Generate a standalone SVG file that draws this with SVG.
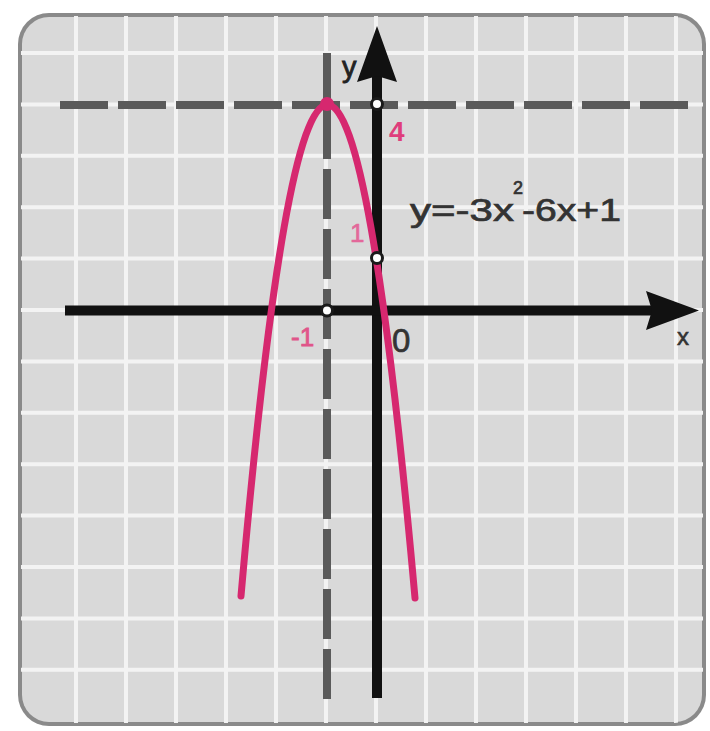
<svg xmlns="http://www.w3.org/2000/svg" width="710" height="731" viewBox="0 0 710 731">
  <defs>
    <clipPath id="inner">
      <rect x="21" y="16" width="682" height="707" rx="28"/>
    </clipPath>
    <style>
      .grid { stroke: #f3f3f3; stroke-width: 4; fill: none; }
      .dash { stroke: #5a5a5a; stroke-width: 8; fill: none; }
      .axis { stroke: #111; stroke-width: 10; fill: none; }
      .head { fill: #111; }
      .curve { stroke: #d6286f; stroke-width: 7; fill: none; stroke-linecap: round; }
      .pt { fill: #fff; stroke: #1a1a1a; stroke-width: 3; }
      .lbl { font-family: "Liberation Sans", Arial, sans-serif; }
      .dark { fill: #333; stroke: #333; stroke-width: 0.7; }
      .pink { fill: #df3d7c; }
    </style>
  </defs>

  <rect width="710" height="731" fill="#ffffff"/>

  <g id="frame">
    <rect x="18" y="13" width="688" height="713" rx="31" fill="#8a8a8a"/>
    <rect x="22" y="17" width="680" height="705" rx="27" fill="#d9d9d9"/>
  </g>

  <g id="grid" clip-path="url(#inner)">
    <path class="grid" d="M76 0V731M126 0V731M176 0V731M226 0V731M276 0V731M326 0V731M376 0V731M426 0V731M476 0V731M526 0V731M576 0V731M626 0V731M676 0V731"/>
    <path class="grid" d="M0 53H710M0 104.4H710M0 155.8H710M0 207.2H710M0 258.6H710M0 310H710M0 361.4H710M0 412.8H710M0 464.2H710M0 515.6H710M0 567H710M0 618.4H710M0 669.8H710"/>
  </g>

  <g id="guides">
    <line class="dash" x1="60" y1="105" x2="688" y2="105" stroke-dasharray="48 10"/>
    <line class="dash" x1="327" y1="53" x2="327" y2="700" stroke-dasharray="50 10" stroke-dashoffset="4"/>
  </g>

  <g id="axis-labels">
    <text class="lbl" x="342" y="77" font-size="29" fill="#222" stroke="#222" stroke-width="0.8">y</text>
    <text class="lbl" x="677" y="345" font-size="24" fill="#333" stroke="#333" stroke-width="0.6">x</text>
  </g>

  <g id="axes">
    <line class="axis" x1="377" y1="75" x2="377" y2="698"/>
    <polygon class="head" points="377,26 397,82 377,76 357,82"/>
    <line class="axis" x1="65" y1="310.5" x2="652" y2="310.5"/>
    <polygon class="head" points="699,310.5 646,291 652,310.5 646,330"/>
  </g>

  <g id="parabola">
    <path class="curve" d="M241 596 Q327 -387.7 415 598"/>
  </g>

  <g id="points">
    <circle id="vertex" cx="327" cy="104" r="7" fill="#d6286f"/>
    <circle id="pt-y4" class="pt" cx="377" cy="104" r="5.5"/>
    <circle id="pt-y1" class="pt" cx="377" cy="258" r="5.5"/>
    <circle id="pt-xm1" class="pt" cx="327" cy="310.5" r="5.5"/>
  </g>

  <g id="labels">
    <text class="lbl pink" x="389" y="141" font-size="28" font-weight="bold">4</text>
    <text class="lbl" x="350" y="242" font-size="26" fill="#e3689a" stroke="#e3689a" stroke-width="0.6">1</text>
    <text class="lbl" x="291" y="346" font-size="26" fill="#e0558a" stroke="#e0558a" stroke-width="0.8">-1</text>
    <text class="lbl dark" x="392" y="352" font-size="33">0</text>
    <g id="equation" class="lbl dark">
      <text x="410" y="221" font-size="31" textLength="104" lengthAdjust="spacingAndGlyphs">y=-3x</text>
      <text x="513" y="194" font-size="18">2</text>
      <text x="522" y="221" font-size="31" textLength="99" lengthAdjust="spacingAndGlyphs">-6x+1</text>
    </g>
  </g>
</svg>
